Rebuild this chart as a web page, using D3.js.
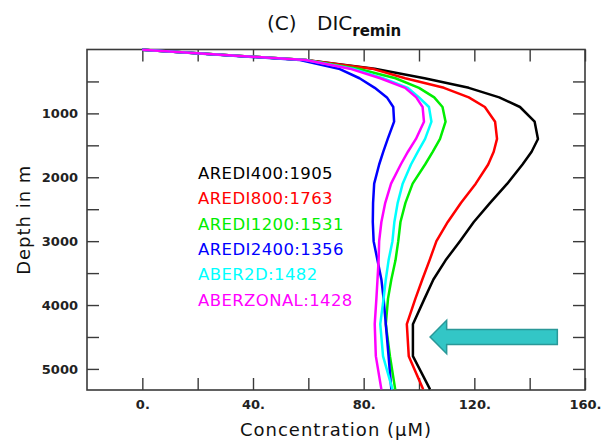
<!DOCTYPE html>
<html>
<head>
<meta charset="utf-8">
<script src="https://cdn.jsdelivr.net/npm/d3@7"></script>
<style>
  html, body { margin: 0; padding: 0; background: #fff; }
  svg { display: block; }
</style>
</head>
<body>
<svg id="chart" width="604" height="443"></svg>
<script>
// Model depth levels (m) shared by every run
const depths = [5, 165, 300, 450, 600, 750, 900, 1130, 1400, 1600, 1800, 2100, 2400, 2700, 3000, 3300, 3600, 3900, 4300, 4800, 5320];

// Remineralised DIC profiles (µM) for each run
const aredi400  = [0, 59, 84, 102, 118, 129, 136.5, 141.8, 143, 140.7, 137.4, 131.9, 125.7, 119.8, 114.8, 109.6, 105.2, 102, 97.8, 97.8, 104];
const aredi800  = [0, 59, 83, 95, 109, 118, 123.8, 127.5, 128.2, 127, 125, 120.5, 115.2, 110.4, 106.3, 103.8, 101.2, 98.7, 95.6, 96.3, 101.5];
const aredi1200 = [0, 59, 78, 91.5, 100, 105.5, 108.5, 109.6, 107.6, 105, 102.2, 97.7, 95.1, 93.3, 92.5, 91.5, 90, 88.8, 88, 89.5, 91.4];
const aredi2400 = [0, 57, 71, 78.5, 84, 88.4, 90.7, 91, 88.7, 87.1, 85.6, 83.8, 83.4, 83.3, 83.6, 85, 86.4, 87.2, 88, 89, 90];
const aber2d    = [0, 59, 76, 87, 96, 100, 103.6, 104.5, 102.2, 99.6, 97.1, 94.1, 92.3, 91.1, 90.4, 89, 88, 87.2, 86, 87, 90.4];
const aberzonal = [0, 59, 75, 86, 95, 99, 101.3, 101.8, 98.9, 96, 93.4, 89.9, 87.8, 86.4, 85.6, 85.4, 85, 84.6, 84, 84.4, 86.4];

// Legend labels (run name : inventory)
const runNames = ["AREDI400:1905", "AREDI800:1763", "AREDI1200:1531", "AREDI2400:1356", "ABER2D:1482", "ABERZONAL:1428"];
const runColors = ["#000000", "#ff0000", "#00ee00", "#0000ff", "#00ffff", "#ff00ff"];
const runValues = [aredi400, aredi800, aredi1200, aredi2400, aber2d, aberzonal];

// Axis ticks
const xTicks = [0, 20, 40, 60, 80, 100, 120, 140, 160];
const yTicks = [500, 1000, 1500, 2000, 2500, 3000, 3500, 4000, 4500, 5000];

// Arrow annotation (value and depth extents)
const arrowTip = 104, arrowHeadBase = 110, arrowEnd = 150;
const arrowDepth = 4500, arrowHeadHalf = 262, arrowShaftHalf = 117;

const svg = d3.select("#chart");
const plotLeft = 87, plotRight = 585, plotTop = 49.5, plotBottom = 390;

const x = d3.scaleLinear().domain([-20, 160]).range([plotLeft, plotRight]);
const y = d3.scaleLinear().domain([0, 5330]).range([plotTop, plotBottom]);

const tickFont = "'DejaVu Sans', sans-serif";
const tickLen = 12;
const frameColor = "#3a3a3a";

// Inward ticks on all four sides
function styleAxis(g) {
  g.select(".domain").remove();
  g.selectAll(".tick line").attr("stroke", frameColor).attr("stroke-width", 1.4);
  g.selectAll(".tick text")
    .attr("font-family", tickFont)
    .attr("font-weight", "bold")
    .attr("font-size", 13)
    .attr("fill", "#222");
}

svg.append("g")
  .attr("transform", `translate(0,${plotBottom})`)
  .call(d3.axisBottom(x).tickValues(xTicks).tickSize(-tickLen).tickPadding(10)
    .tickFormat(d => d % 40 === 0 ? d + "." : ""))
  .call(styleAxis);

svg.append("g")
  .attr("transform", `translate(0,${plotTop})`)
  .call(d3.axisTop(x).tickValues(xTicks).tickSize(-tickLen).tickFormat(""))
  .call(styleAxis);

svg.append("g")
  .attr("transform", `translate(${plotLeft},0)`)
  .call(d3.axisLeft(y).tickValues(yTicks).tickSize(-tickLen).tickPadding(9)
    .tickFormat(d => d % 1000 === 0 ? d : ""))
  .call(styleAxis);

svg.append("g")
  .attr("transform", `translate(${plotRight},0)`)
  .call(d3.axisRight(y).tickValues(yTicks).tickSize(-tickLen).tickFormat(""))
  .call(styleAxis);

// Plot frame
svg.append("rect")
  .attr("x", plotLeft).attr("y", plotTop)
  .attr("width", plotRight - plotLeft).attr("height", plotBottom - plotTop)
  .attr("fill", "none").attr("stroke", frameColor).attr("stroke-width", 1.6);

// Profiles
const line = d3.line()
  .x(d => x(d[1]))
  .y(d => y(d[0]));

const plot = svg.append("g");
runValues.forEach((vals, i) => {
  plot.append("path")
    .datum(depths.map((d, k) => [d, vals[k]]))
    .attr("d", line)
    .attr("fill", "none")
    .attr("stroke", runColors[i])
    .attr("stroke-width", 2.5)
    .attr("stroke-linejoin", "round");
});

// Legend
const legend = svg.append("g")
  .attr("font-family", "'DejaVu Sans', sans-serif")
  .attr("font-size", 16.5);
runNames.forEach((name, i) => {
  legend.append("text")
    .attr("x", 198)
    .attr("y", 179 + i * 25.3)
    .attr("fill", runColors[i])
    .attr("letter-spacing", 0.4)
    .text(name);
});

// Arrow pointing at the deep minimum
const arrowPts = [
  [arrowTip, arrowDepth],
  [arrowHeadBase, arrowDepth - arrowHeadHalf],
  [arrowHeadBase, arrowDepth - arrowShaftHalf],
  [arrowEnd, arrowDepth - arrowShaftHalf],
  [arrowEnd, arrowDepth + arrowShaftHalf],
  [arrowHeadBase, arrowDepth + arrowShaftHalf],
  [arrowHeadBase, arrowDepth + arrowHeadHalf]
];
svg.append("path")
  .attr("d", d3.line().x(d => x(d[0])).y(d => y(d[1]))(arrowPts) + "Z")
  .attr("fill", "#33c6c6")
  .attr("stroke", "#2a9898")
  .attr("stroke-width", 1.5)
  .attr("stroke-linejoin", "miter");

// Title
const title = svg.append("text")
  .attr("y", 30)
  .attr("font-family", "'DejaVu Sans', sans-serif")
  .attr("fill", "#111");
title.append("tspan").attr("x", 267).attr("font-size", 20).text("(C)");
title.append("tspan").attr("x", 317).attr("font-size", 20).text("DIC");
title.append("tspan").attr("dy", 6).attr("font-size", 15).attr("font-weight", "bold").text("remin");

// Axis titles
svg.append("text")
  .attr("x", (plotLeft + plotRight) / 2)
  .attr("y", 436)
  .attr("text-anchor", "middle")
  .attr("font-family", "'DejaVu Sans', sans-serif")
  .attr("font-size", 18)
  .attr("letter-spacing", 1)
  .attr("fill", "#111")
  .text("Concentration (\u03bcM)");

svg.append("text")
  .attr("transform", `translate(30,${(plotTop + plotBottom) / 2}) rotate(-90)`)
  .attr("text-anchor", "middle")
  .attr("font-family", "'DejaVu Sans', sans-serif")
  .attr("font-size", 18)
  .attr("letter-spacing", 1)
  .attr("fill", "#111")
  .text("Depth in m");
</script>
</body>
</html>
